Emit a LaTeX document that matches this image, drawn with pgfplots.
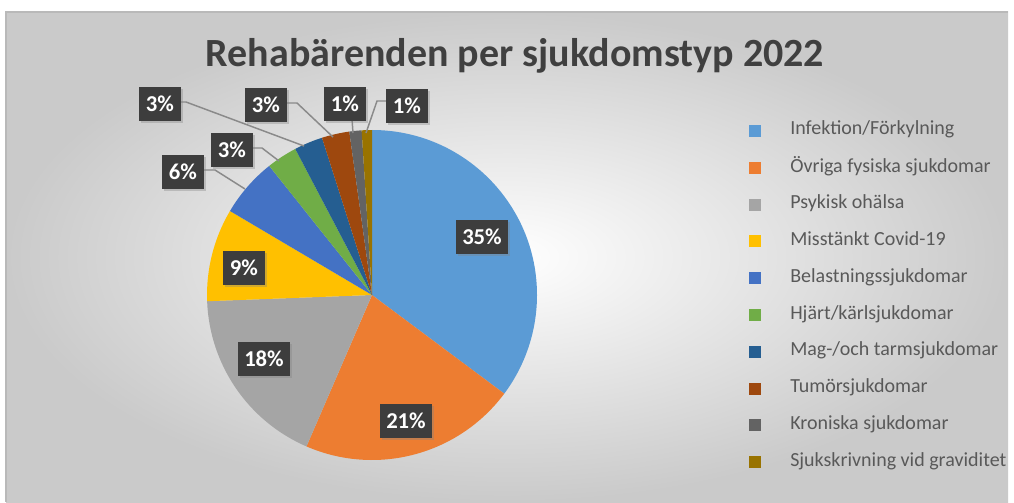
\documentclass[border=0pt]{standalone}
\usepackage{pgfplots}
\pgfplotsset{compat=1.18}
\usepackage{pgfplotstable}
\usepackage{fontspec}
\setmainfont{Carlito}
\usetikzlibrary{shadows}

\definecolor{c1}{HTML}{5B9BD5}
\definecolor{c2}{HTML}{ED7D31}
\definecolor{c3}{HTML}{A5A5A5}
\definecolor{c4}{HTML}{FFC000}
\definecolor{c5}{HTML}{4472C4}
\definecolor{c6}{HTML}{70AD47}
\definecolor{c7}{HTML}{255E91}
\definecolor{c8}{HTML}{9E480E}
\definecolor{c9}{HTML}{636363}
\definecolor{c10}{HTML}{997300}
\definecolor{lblbox}{HTML}{3D3D3D}
\definecolor{leader}{HTML}{8A8A8A}
\definecolor{titlegray}{HTML}{404040}
\definecolor{legtext}{HTML}{595959}
\definecolor{bgouter}{HTML}{CACACA}

% share of cases (%), rounded label, label position (px), colour, legend text
\pgfplotstableread[col sep=comma]{
share,pct,lx,ly,col,name
35.2,35,482,237,c1,Infektion/Förkylning
21.3,21,406,421,c2,Övriga fysiska sjukdomar
17.9,18,264,359,c3,Psykisk ohälsa
9.1,9,244,268,c4,Misstänkt Covid-19
5.8,6,183,172,c5,Belastningssjukdomar
3.0,3,232,150,c6,Hjärt/kärlsjukdomar
2.8,3,160,104,c7,Mag-/och tarmsjukdomar
2.7,3,266,105,c8,Tumörsjukdomar
1.2,1,345,104,c9,Kroniska sjukdomar
1.0,1,407,106,c10,Sjukskrivning vid graviditet
}\pietable

\tikzset{
  lbl/.style={fill=lblbox, text=white, inner xsep=5pt, inner ysep=0pt,
    minimum height=25pt,
    font=\bfseries\fontsize{17}{17}\selectfont,
    drop shadow={opacity=0.35, shadow xshift=1.5pt, shadow yshift=-1.5pt}},
  lead/.style={draw=leader, line width=1.1pt},
}

\begin{document}
\begin{tikzpicture}
\begin{axis}[
    x=0.75pt, y=0.75pt,
    xmin=0, xmax=1014, ymin=0, ymax=502,
    y dir=reverse,
    hide axis,
    clip=false,
]
\pgfplotsextra{%
  % background
  \fill[white] (axis cs:0,0) rectangle (axis cs:1014,502);
  \shade[inner color=white, outer color=bgouter]
    (axis cs:6,12) rectangle (axis cs:1008,502);
  \draw[gray!55, line width=0.8pt] (axis cs:6,502) -- (axis cs:6,12) -- (axis cs:1008,12);
  % title
  \node[text=titlegray, font=\bfseries\fontsize{30}{30}\selectfont]
    at (axis cs:515,56) {Rehabärenden per sjukdomstyp 2022};
  % pie sectors, clockwise from 12 o'clock
  \pgfmathsetlengthmacro\R{165*0.75pt}%
  \xdef\cum{0}%
  \foreach \i in {0,...,9}{%
    \pgfplotstablegetelem{\i}{share}\of\pietable \let\s\pgfplotsretval
    \pgfplotstablegetelem{\i}{col}\of\pietable \let\c\pgfplotsretval
    \pgfmathsetmacro\aa{90-3.6*\cum}%
    \pgfmathsetmacro\ab{90-3.6*(\cum+\s)}%
    \fill[\c] (axis cs:372,295) -- ++({\aa}:\R)
      arc[start angle=\aa, end angle=\ab, radius=\R] -- cycle;
    \pgfmathsetmacro\newcum{\cum+\s}%
    \xdef\cum{\newcum}%
  }%
  % leader lines for the small slices
  \draw[lead] (axis cs:203,170) -- (axis cs:215,170) -- (axis cs:245,189);
  \draw[lead] (axis cs:251,148) -- (axis cs:262,148) -- (axis cs:279,161);
  \draw[lead] (axis cs:180,102) -- (axis cs:186,102) -- (axis cs:304,146);
  \draw[lead] (axis cs:286,103) -- (axis cs:297,103) -- (axis cs:333,137);
  \draw[lead] (axis cs:352,119) -- (axis cs:353,133);
  \draw[lead] (axis cs:387,101) -- (axis cs:377,101) -- (axis cs:366,133);
  % data labels and legend
  \foreach \i in {0,...,9}{%
    \pgfplotstablegetelem{\i}{pct}\of\pietable \let\p\pgfplotsretval
    \pgfplotstablegetelem{\i}{lx}\of\pietable \let\lx\pgfplotsretval
    \pgfplotstablegetelem{\i}{ly}\of\pietable \let\ly\pgfplotsretval
    \pgfplotstablegetelem{\i}{col}\of\pietable \let\c\pgfplotsretval
    \pgfplotstablegetelem{\i}{name}\of\pietable \let\nm\pgfplotsretval
    \node[lbl] at (axis cs:\lx,\ly) {\p\%};
    \pgfmathsetmacro\yy{131+36.8*\i}%
    \fill[\c] (axis cs:749,\yy-6) rectangle (axis cs:761,\yy+6);
    \node[anchor=west, inner sep=0pt, text=legtext,
      font=\fontsize{15}{15}\selectfont] at (axis cs:790,\yy) {\strut\nm};
  }%
}
\end{axis}
\end{tikzpicture}
\end{document}
